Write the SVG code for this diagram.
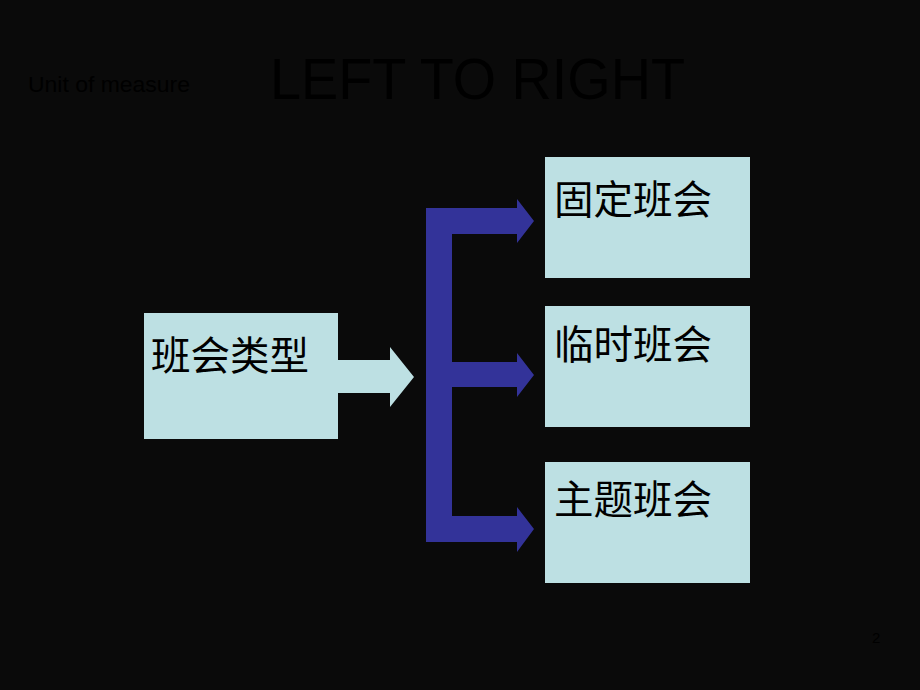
<svg xmlns="http://www.w3.org/2000/svg" width="920" height="690" viewBox="0 0 920 690">
<style>
.box{fill:#bde0e3}
.cjk{font-family:"Noto Sans CJK SC","Noto Sans",sans-serif;font-size:39.5px;fill:#000}
.lat{font-family:"Liberation Sans",Arial,sans-serif;fill:#000}
.blue{fill:#333399}
</style>
<rect width="920" height="690" fill="#0a0a0a"/>
<text class="lat" x="28" y="92" font-size="22.5" textLength="162" lengthAdjust="spacingAndGlyphs">Unit of measure</text>
<text class="lat" x="270" y="99" font-size="57" textLength="415" lengthAdjust="spacingAndGlyphs">LEFT TO RIGHT</text>
<text class="lat" x="872" y="643" font-size="15">2</text>
<g id="connectors">
<polygon class="box" points="336,360 390,360 390,347 414,377 390,407 390,393 336,393"/>
<path class="blue" d="M426,208 H517 V199 L534,221 L517,243 V234 H452 V362 H517 V353 L534,375 L517,397 V387 H452 V516 H517 V507 L534,529 L517,552 V542 H426 Z"/>
</g>
<g id="node-type">
<rect class="box" x="144" y="313" width="194" height="126"/>
<text class="cjk" x="151" y="370">班会类型</text>
</g>
<g id="node-fixed">
<rect class="box" x="545" y="157" width="205" height="121"/>
<text class="cjk" x="554" y="214">固定班会</text>
</g>
<g id="node-temp">
<rect class="box" x="545" y="306" width="205" height="121"/>
<text class="cjk" x="554" y="359">临时班会</text>
</g>
<g id="node-theme">
<rect class="box" x="545" y="462" width="205" height="121"/>
<text class="cjk" x="554" y="514">主题班会</text>
</g>
</svg>
